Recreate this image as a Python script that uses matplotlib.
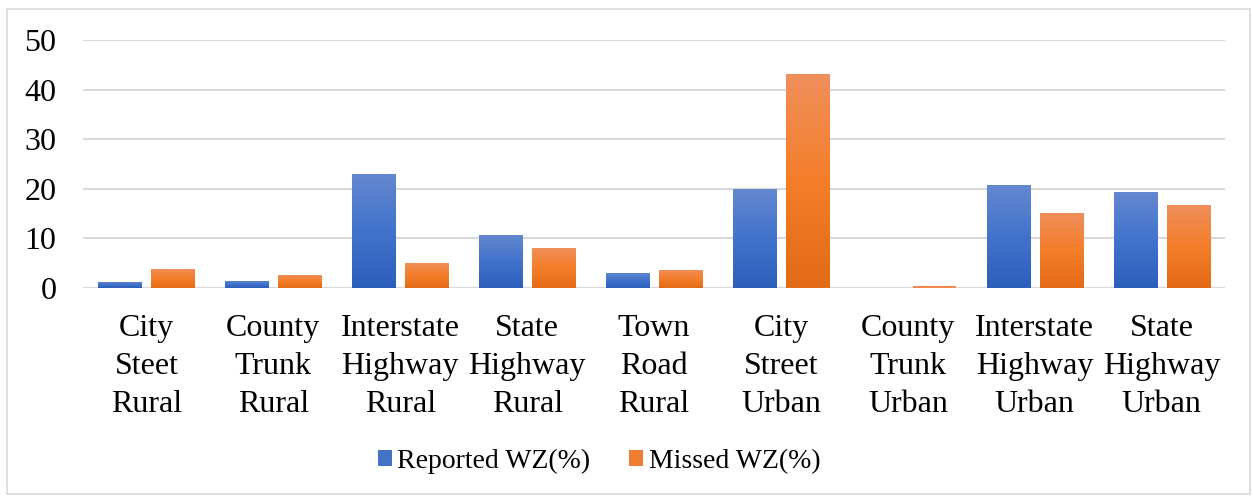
import matplotlib.pyplot as plt
import numpy as np
from matplotlib.colors import LinearSegmentedColormap
from matplotlib.patches import Rectangle

categories = ["City\nSteet\nRural", "County\nTrunk\nRural", "Interstate\nHighway\nRural",
              "State\nHighway\nRural", "Town\nRoad\nRural", "City\nStreet\nUrban",
              "County\nTrunk\nUrban", "Interstate\nHighway\nUrban", "State\nHighway\nUrban"]
reported = [1.3, 1.5, 22.9, 10.6, 3.1, 19.9, 0.0, 20.7, 19.3]
missed = [3.9, 2.7, 5.1, 8.1, 3.7, 43.1, 0.4, 15.2, 16.8]

plt.rcParams['font.family'] = ['Liberation Serif', 'DejaVu Serif']

blue_cmap = LinearSegmentedColormap.from_list("b", ["#2c5fbb", "#4273cc", "#6488d0"])
orange_cmap = LinearSegmentedColormap.from_list("o", ["#e36a16", "#f47e2a", "#f08f5c"])

fig = plt.figure(figsize=(12.53, 4.97), dpi=100)
ax = fig.add_axes([0.0662, 0.4205, 0.9116, 0.499])

x = np.arange(len(categories))
width = 0.34
offset = 0.209

bars_r = ax.bar(x - offset, reported, width, color="#4472c4", linewidth=0,
                label="Reported WZ(%)", zorder=2)
bars_m = ax.bar(x + offset, missed, width, color="#f28a4e", linewidth=0,
                label="Missed WZ(%)", zorder=2)

# gradient fill clipped to each bar
grad = np.linspace(0, 1, 256).reshape(-1, 1)
for bars, cmap in [(bars_r, blue_cmap), (bars_m, orange_cmap)]:
    for b in bars:
        h = b.get_height()
        if h < 1:
            continue
        x0 = b.get_x()
        im = ax.imshow(grad, cmap=cmap, origin="lower", aspect="auto",
                       extent=[x0, x0 + b.get_width(), 0, h], zorder=3)
        im.set_clip_path(b)

ax.set_xlim(-0.5, len(categories) - 0.5)
ax.set_ylim(0, 50)
ax.set_yticks(range(0, 51, 10))
ax.yaxis.grid(True, color="#d9d9d9", linewidth=1.5, zorder=0)
ax.set_axisbelow(True)
for s in ax.spines.values():
    s.set_visible(False)
ax.axhline(0, color="#d9d9d9", linewidth=1.5, zorder=1)

ax.set_xticks(x)
ax.set_xticklabels(categories, fontsize=23, linespacing=1.4)
ax.tick_params(axis="x", length=0, pad=19)
ax.tick_params(axis="y", length=0, pad=19, labelsize=23)

leg = fig.legend(handles=[bars_r, bars_m], loc="center", bbox_to_anchor=(0.478, 0.072),
                 ncol=2, frameon=False, fontsize=20, handlelength=0.5, handleheight=0.5,
                 handletextpad=0.2, columnspacing=1.4)
leg.legend_handles[0].set_color("#4472c4")
leg.legend_handles[1].set_color("#ef7e33")

fig.patches.append(Rectangle((7 / 1253, 3 / 497), 1243 / 1253, 485 / 497,
                             transform=fig.transFigure, fill=False,
                             edgecolor="#d9d9d9", linewidth=1.2))

fig.savefig("out.png", dpi=100)
